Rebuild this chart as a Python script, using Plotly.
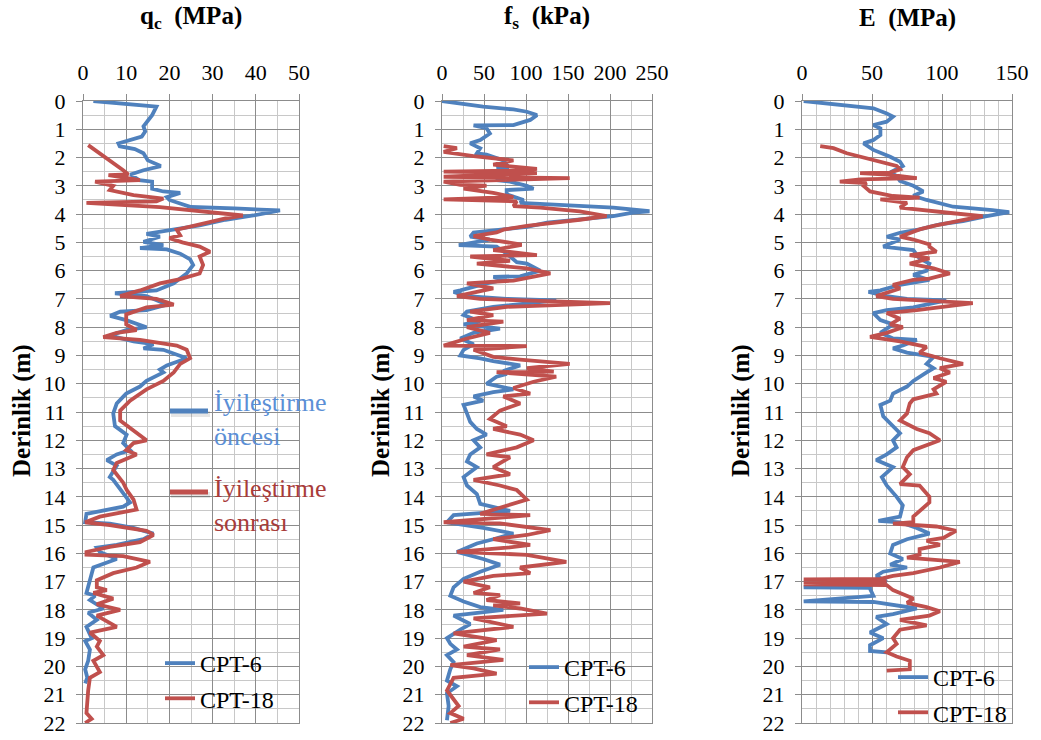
import plotly.graph_objects as go

# ---------------- CPT profiles (depth in m) ----------------
# Cone resistance qc (MPa)
qc_cpt6_depth = [0.0, 0.2, 0.5, 0.9, 1.08, 1.26, 1.5, 1.6, 1.7, 1.85, 2.1, 2.3, 2.45, 2.6, 2.8, 2.85, 3.1, 3.2, 3.25, 3.4, 3.5,
                 3.75, 3.8, 3.87, 4.05, 4.2, 4.4, 4.55, 4.7, 4.8, 4.98, 5.1, 5.2, 5.25, 5.4, 5.6, 5.8, 6.1, 6.45, 6.7,
                 6.75, 6.8, 6.9, 7.2, 7.4, 7.45, 7.6, 7.75, 8.0, 8.1, 8.3, 8.5, 8.6, 8.75, 8.8, 9.0, 9.1, 9.35, 9.5,
                 9.6, 9.9, 10.1, 10.35, 10.7, 11.05, 11.5, 11.8, 12.1, 12.35, 12.5, 12.7, 12.9, 13.3, 13.4, 14.0,
                 14.2, 14.35, 14.6, 14.9, 14.95, 15.1, 15.3, 15.5, 15.7, 15.8, 15.95, 16.2, 16.4, 16.5, 16.95, 17.4,
                 17.5, 17.65, 17.95, 18.1, 18.35, 18.6, 19.0, 19.1, 19.4, 19.8, 20.1, 20.4, 20.6]
qc_cpt6_value = [2.4, 17.0, 16.0, 14.0, 14.4, 13.6, 8.2, 8.5, 12.0, 14.0, 15.0, 18.0, 14.0, 11.0, 13.0, 16.0, 16.0, 18.6, 22.5, 19.4, 20.0,
                 25.0, 35.0, 45.6, 39.4, 33.0, 27.0, 21.0, 14.7, 17.8, 14.0, 18.6, 13.2, 19.4, 22.5, 24.8, 25.5, 24.0, 21.0, 17.0,
                 13.2, 7.4, 14.7, 19.4, 14.7, 8.6, 6.3, 10.0, 14.7, 10.0, 6.3, 11.7, 16.3, 14.0, 18.6, 22.5, 24.0, 19.4, 17.8,
                 18.6, 14.7, 13.2, 10.0, 7.8, 7.0, 7.4, 10.1, 9.3, 10.9, 7.8, 5.5, 7.8, 6.2, 7.0, 10.1,
                 10.9, 9.3, 0.8, 0.5, 6.2, 11.7, 16.3, 14.0, 7.8, 3.2, 3.9, 7.8, 3.9, 2.4, 1.6, 0.8,
                 2.8, 1.6, 4.7, 1.2, 3.2, 0.8, 2.0, 0.5, 1.6, 1.2, 0.5, 1.0, 0.5]

qc_cpt18_depth = [1.56, 1.85, 2.2, 2.45, 2.6, 2.62, 2.8, 2.85, 3.0, 3.15, 3.33, 3.45, 3.55, 3.6, 3.75, 3.9, 4.05, 4.15, 4.35,
                  4.55, 4.75, 4.85, 5.0, 5.15, 5.33, 5.5, 5.8, 6.1, 6.3, 6.45, 6.7, 6.9, 7.0, 7.2, 7.3, 7.55, 7.9, 8.1,
                  8.2, 8.35, 8.45, 8.65, 8.8, 9.1, 9.3, 9.6, 9.9, 10.2, 10.6, 10.95, 11.3, 11.65, 12.0, 12.1, 12.35,
                  12.5, 12.8, 13.05, 13.5, 13.75, 14.1, 14.45, 14.7, 14.9, 15.0, 15.2, 15.35, 15.6, 15.77, 15.95,
                  16.05, 16.1, 16.3, 16.5, 16.7, 16.95, 17.2, 17.3, 17.4, 17.6, 17.8, 18.0, 18.2, 18.6, 18.8, 19.1,
                  19.3, 19.6, 19.8, 20.2, 20.4, 20.85, 21.65, 21.85, 22.0]
qc_cpt18_value = [1.2, 3.9, 7.0, 9.3, 10.5, 5.9, 13.2, 2.8, 7.0, 6.2, 11.7, 18.6, 17.0, 0.8, 17.8, 27.0, 37.0, 33.0, 27.0,
                  21.7, 22.5, 20.0, 23.0, 27.0, 29.4, 27.0, 27.8, 27.0, 22.5, 17.8, 13.2, 8.6, 17.0, 21.0, 14.7, 10.0, 10.0, 12.4,
                  7.8, 4.7, 13.2, 21.7, 24.0, 24.8, 22.5, 21.0, 18.6, 14.7, 10.9, 8.6, 8.6, 11.7, 14.7, 11.7, 10.0,
                  12.4, 7.8, 7.0, 9.3, 10.1, 11.7, 12.4, 3.9, 0.5, 6.2, 14.7, 16.3, 13.2, 6.2, 0.8,
                  0.8, 9.3, 15.5, 12.4, 7.0, 3.2, 3.2, 5.5, 2.4, 7.0, 3.2, 8.6, 3.2, 7.8, 1.6, 3.9,
                  3.2, 4.7, 2.4, 3.9, 1.6, 1.2, 0.8, 2.0, 0.5]

# Sleeve friction fs (kPa)
fs_cpt6_depth = [0.0, 0.2, 0.3, 0.38, 0.5, 0.67, 0.85, 0.86, 0.96, 1.15, 1.38, 1.5, 1.67, 1.85, 1.9, 2.1, 2.25, 2.35, 2.4,
                 2.8, 2.85, 3.0, 3.1, 3.15, 3.3, 3.5, 3.6, 3.7, 3.77, 3.9, 3.95, 4.07, 4.2, 4.3, 4.45, 4.55, 4.65, 4.8,
                 4.9, 5.1, 5.15, 5.4, 5.7, 5.75, 6.0, 6.2, 6.22, 6.3, 6.45, 6.7, 6.75, 6.9, 6.95, 7.0, 7.05, 7.28,
                 7.45, 7.57, 7.8, 7.9, 8.05, 8.2, 8.4, 8.6, 8.8, 9.0, 9.1, 9.2, 9.35, 9.55, 9.65, 9.75, 10.0, 10.2,
                 10.3, 10.45, 10.6, 10.75, 11.05, 11.35, 11.6, 11.8, 12.0, 12.25, 12.5, 12.75, 12.95, 13.3, 13.6,
                 13.9, 14.25, 14.5, 14.65, 14.9, 15.1, 15.3, 15.5, 15.65, 15.95, 16.2, 16.4, 16.65, 16.9, 17.2,
                 17.5, 17.7, 17.9, 18.0, 18.2, 18.5, 18.7, 19.0, 19.2, 19.4, 19.6, 19.85, 20.1, 20.5, 20.7, 20.95,
                 21.4, 21.9]
fs_cpt6_value = [0, 49, 85, 101, 113, 105, 85, 37.6, 53, 57, 45.5, 33.6, 45.5, 41.5, 53, 73, 77, 65, 79,
                 65, 81, 101, 109, 77, 77, 97, 93, 156, 204, 247, 227, 204, 156, 125, 101, 69, 37.6, 33.6,
                 57, 20, 65, 77, 89, 101, 117, 93, 61, 77, 53, 21.8, 13.8, 29.7, 49, 77, 136, 61,
                 29.7, 25.7, 45.5, 25.7, 69, 37.6, 21.8, 37.6, 25.7, 21.8, 45.5, 61, 93, 73, 77, 65, 53, 85,
                 61, 37.6, 49, 25.7, 29.7, 33.6, 41.5, 53, 37.6, 45.5, 33.6, 29.7, 41.5, 25.7, 29.7,
                 41.5, 45.5, 81, 13.8, 5.9, 49, 85, 61, 41.5, 17.8, 49, 69, 45.5, 25.7, 13.8,
                 9.9, 25.7, 45.5, 73, 13.8, 33.6, 21.8, 5.9, 9.9, 17.8, 5.9, 13.8, 9.9, 5.9, 17.8, 5.9,
                 7.9, 5.9]

fs_cpt18_depth = [1.6, 1.67, 1.8, 1.95, 2.1, 2.25, 2.4, 2.45, 2.5, 2.55, 2.68, 2.73, 2.85, 2.97, 2.99, 3.1, 3.25, 3.4,
                  3.48, 3.55, 3.72, 3.77, 3.9, 4.07, 4.2, 4.3, 4.42, 4.55, 4.65, 4.78, 4.9, 5.07, 5.1, 5.27, 5.45,
                  5.5, 5.65, 5.75, 5.92, 6.1, 6.3, 6.35, 6.45, 6.63, 6.9, 7.0, 7.15, 7.28, 7.45, 7.57, 7.75, 7.8,
                  8.0, 8.2, 8.4, 8.65, 8.67, 8.8, 9.05, 9.15, 9.3, 9.45, 9.57, 9.59, 9.75, 9.93, 10.15, 10.35, 10.45,
                  10.7, 10.95, 11.25, 11.5, 11.6, 11.8, 12.0, 12.25, 12.5, 12.6, 12.95, 13.2, 13.4, 13.6, 13.76,
                  14.1, 14.35, 14.6, 14.65, 14.9, 14.94, 15.18, 15.35, 15.5, 15.7, 15.8, 15.95, 16.05, 16.3, 16.5,
                  16.7, 16.8, 17.0, 17.2, 17.4, 17.48, 17.65, 17.77, 17.84, 17.95, 18.13, 18.3, 18.6, 18.83, 19.07,
                  19.3, 19.4, 19.6, 19.77, 19.95, 20.07, 20.25, 20.4, 20.85, 21.4, 21.65, 21.85, 22.0]
fs_cpt18_value = [2, 17.8, 2, 37.6, 85, 61, 113, 101, 2, 113, 2, 152, 2, 21.8, 53, 25.7, 61, 85,
                  2, 89, 85, 117, 164, 196, 164, 132, 101, 73, 65, 37.6, 57, 93, 93, 61, 113,
                  33.6, 81, 41.5, 101, 129, 93, 85, 29.7, 61, 17.8, 45.5, 200, 77, 33.6, 61, 29.7, 73,
                  29.7, 57, 29.7, 2, 101, 37.6, 61, 93, 152, 101, 133, 65, 136, 109, 85, 105, 73,
                  93, 69, 57, 77, 61, 93, 109, 89, 53, 81, 61, 81, 37.6, 69, 89,
                  101, 73, 45.5, 105, 2, 69, 129, 101, 61, 105, 77, 17.8, 101, 148, 93,
                  105, 61, 25.7, 57, 37.6, 69, 53, 93, 61, 93, 125, 37.6, 85, 13.8, 65,
                  25.7, 69, 29.7, 73, 9.9, 37.6, 65, 13.8, 5.9, 19.8, 9.9, 25.7, 9.9]

# Deformation modulus E (MPa)
e_cpt6_depth = [0.0, 0.14, 0.26, 0.44, 0.55, 0.73, 0.85, 0.97, 1.2, 1.38, 1.5, 1.73, 1.97, 2.15, 2.3, 2.53, 2.65, 2.83,
                3.0, 3.2, 3.35, 3.5, 3.74, 3.86, 3.93, 4.07, 4.25, 4.36, 4.54, 4.66, 4.8, 4.9, 5.07, 5.15, 5.27,
                5.57, 5.75, 6.0, 6.15, 6.33, 6.5, 6.7, 6.75, 6.9, 7.0, 7.05, 7.3, 7.4, 7.5, 7.75, 7.9, 8.05, 8.2,
                8.4, 8.45, 8.65, 8.75, 8.9, 9.05, 9.3, 9.45, 9.6, 9.9, 10.1, 10.35, 10.6, 10.75, 11.15, 11.5, 11.75,
                12.0, 12.25, 12.5, 12.7, 12.95, 13.3, 13.6, 14.0, 14.3, 14.7, 14.85, 14.9, 15.1, 15.3, 15.5, 15.7,
                16.0, 16.2, 16.4, 16.5, 16.65, 16.8, 17.0, 17.2, 17.22, 17.25, 17.5, 17.7, 17.72, 17.85, 17.95,
                18.15, 18.25, 18.5, 18.8, 19.0, 19.25, 19.45, 19.5]
e_cpt6_value = [1.2, 27, 51, 60.5, 65, 60.5, 51, 56, 56, 51, 44, 51, 63, 70, 72, 63, 67.6, 70,
                79.5, 86.6, 79.5, 89, 108, 136, 148, 132, 115, 98.5, 84, 70, 60.5, 70, 60.5, 58, 79.5,
                84, 91, 89, 79.5, 91, 70, 56, 47.5, 60.5, 75, 103, 79.5, 60.5, 51, 56, 65, 60.5, 56,
                65, 82, 72, 65, 75, 94, 89, 94, 89, 79.5, 75, 65, 63, 56, 58, 65, 70,
                65, 67.6, 60.5, 53, 65, 57, 60.5, 67.6, 72, 70, 54.6, 70, 82, 91, 75, 65,
                63, 72, 63, 75, 58, 53, 60.5, 1.2, 48.6, 48.6, 51, 1.2, 51, 67.6, 82,
                65, 53, 60.5, 48.6, 58, 48.6, 48.6, 60.5]

e_cpt18_depth = [1.6, 1.67, 1.85, 1.97, 2.15, 2.3, 2.42, 2.53, 2.55, 2.6, 2.73, 2.77, 2.85, 2.9, 3.0, 3.2, 3.36, 3.42,
                 3.48, 3.6, 3.77, 3.85, 3.97, 4.07, 4.19, 4.3, 4.42, 4.54, 4.66, 4.8, 4.9, 5.07, 5.15, 5.33, 5.45,
                 5.57, 5.75, 5.92, 6.1, 6.28, 6.33, 6.5, 6.63, 6.9, 7.0, 7.15, 7.4, 7.5, 7.7, 7.9, 8.0, 8.2, 8.34,
                 8.5, 8.7, 8.9, 9.1, 9.3, 9.45, 9.6, 9.8, 9.93, 10.2, 10.35, 10.55, 10.7, 11.05, 11.3, 11.6, 11.75,
                 12.0, 12.2, 12.35, 12.6, 12.95, 13.2, 13.55, 13.6, 14.0, 14.2, 14.5, 14.7, 14.9, 14.95, 15.05,
                 15.2, 15.45, 15.55, 15.7, 15.85, 16.05, 16.15, 16.3, 16.5, 16.7, 16.8, 16.9, 16.92, 16.95, 16.98,
                 17.0, 17.03, 17.07, 17.1, 17.12, 17.3, 17.4, 17.6, 17.75, 17.9, 18.05, 18.2, 18.35, 18.55, 18.7,
                 19.0, 19.2, 19.5, 19.65, 19.8, 20.1, 20.15]
e_cpt18_value = [13, 22.5, 32, 41.5, 56, 67.6, 70, 63, 41.5, 60.5, 82, 41.5, 27, 46, 44, 48.6, 65, 84,
                 56, 75, 70, 84, 108, 129, 117, 103, 94, 84, 77, 70, 79.5, 91, 91, 96, 77,
                 91, 77, 94, 105.6, 91, 79.5, 65, 70, 53, 65, 122, 82, 60.5, 70, 63, 72, 60.5, 48.6,
                 70, 89, 84, 98.5, 115, 98.5, 105.6, 94, 103, 94, 96, 79.5, 77, 75, 70, 82, 91,
                 98.5, 86.6, 79.5, 75, 72, 77, 70, 84, 91, 91, 84, 79.5, 79.5, 65, 96,
                 110, 101, 89, 98.5, 84, 84, 75, 112.7, 98.5, 79.5, 65, 56, 1.2, 58, 1.2,
                 60.5, 1.2, 60.5, 1.2, 60.5, 65, 70, 79.5, 75, 89, 98.5, 91, 70, 89, 70,
                 65, 67.6, 60.5, 67.6, 77, 77, 60.5]

# ---------------- styling ----------------
BLUE = "#4F81BD"
RED = "#C0504D"
SERIF = "Liberation Serif"
GRID_MAJOR = "#8c8c8c"
GRID_MINOR = "#c8c8c8"
NBSP = "\u00a0"

W, H = 1041, 740
# Plot boxes in pixels: (left, right); all panels share the same top/bottom
panel_px = [(83, 299), (442, 652), (802, 1012)]
top_px, bottom_px = 101, 723

panels = [
    dict(title="q<sub>c</sub>" + NBSP * 2 + "(MPa)", rng=[0, 50], dtick=10, minor=5,
         s6=(qc_cpt6_value, qc_cpt6_depth), s18=(qc_cpt18_value, qc_cpt18_depth)),
    dict(title="f<sub>s</sub>" + NBSP * 2 + "(kPa)", rng=[0, 250], dtick=50, minor=25,
         s6=(fs_cpt6_value, fs_cpt6_depth), s18=(fs_cpt18_value, fs_cpt18_depth)),
    dict(title="E" + NBSP * 2 + "(MPa)", rng=[0, 150], dtick=50, minor=10,
         s6=(e_cpt6_value, e_cpt6_depth), s18=(e_cpt18_value, e_cpt18_depth)),
]

fig = go.Figure()
ydom = [1 - bottom_px / H, 1 - top_px / H]
# top-left corner of each panel's CPT legend, in pixels
legend_pos = [(160, 641), (524, 645), (893, 655)]

annotations = []
for i, p in enumerate(panels):
    n = "" if i == 0 else str(i + 1)
    xa, ya = "x" + n, "y" + n
    leg = "legend" + n
    for name, (vals, deps), col in (("CPT-6", p["s6"], BLUE), ("CPT-18", p["s18"], RED)):
        fig.add_trace(go.Scatter(
            x=vals, y=deps, mode="lines", name=name,
            line=dict(color=col, width=3.8),
            xaxis=xa, yaxis=ya, legend=leg, legendgroup=name + n,
            hoverinfo="skip",
        ))
    l, r = panel_px[i]
    axis_common = dict(
        showline=True, linecolor=GRID_MAJOR, linewidth=1, mirror=True,
        ticks="outside", ticklen=6, tickcolor=GRID_MAJOR,
        showgrid=True, gridcolor=GRID_MAJOR, gridwidth=1,
        zeroline=False, automargin=False,
        tickfont=dict(family=SERIF, size=22, color="black"),
    )
    fig.layout["xaxis" + n] = dict(
        axis_common, domain=[l / W, r / W], range=p["rng"], side="top",
        anchor=ya, dtick=p["dtick"], tick0=0, ticklabelstandoff=5,
        minor=dict(dtick=p["minor"], showgrid=True, gridcolor=GRID_MINOR, ticks=""),
    )
    fig.layout["yaxis" + n] = dict(
        axis_common, domain=ydom, range=[22, 0], anchor=xa,
        dtick=1, tick0=0, ticklabelstandoff=6,
        minor=dict(dtick=0.5, showgrid=True, gridcolor=GRID_MINOR, ticks=""),
    )
    lx, ly = legend_pos[i]
    fig.layout[leg] = dict(
        x=lx / W, y=1 - ly / H, xanchor="left", yanchor="top",
        bgcolor="rgba(0,0,0,0)", tracegroupgap=1,
        font=dict(family=SERIF, size=24, color="black"),
    )
    # panel title
    annotations.append(dict(
        text="<b>" + p["title"] + "</b>", xref="paper", yref="paper",
        x=(l + r) / 2 / W, y=1 - 18 / H, xanchor="center", yanchor="middle",
        showarrow=False,
        font=dict(family=SERIF, size=25, color="black"),
    ))
    # depth axis title
    annotations.append(dict(
        text="<b>Derinlik (m)</b>", xref="paper", yref="paper",
        x=(l - 61) / W, y=1 - 411 / H, xanchor="center", yanchor="middle",
        showarrow=False, textangle=-90,
        font=dict(family=SERIF, size=25, color="black"),
    ))

# Before / after improvement labels in the qc panel
notes = [("İyileştirme<br>öncesi", "#5B8FD6", BLUE, 411, 419),
         ("İyileştirme<br>sonrası", "#A83C3A", RED, 492, 505)]
shapes = []
for text, tcol, lcol, line_y, text_y in notes:
    annotations.append(dict(
        text=text, xref="paper", yref="paper", x=212 / W, y=1 - text_y / H,
        xanchor="left", yanchor="middle", align="left", showarrow=False,
        font=dict(family=SERIF, size=26, color=tcol),
    ))
    shapes.append(dict(type="line", xref="paper", yref="paper",
                       x0=171 / W, x1=210 / W, y0=1 - (line_y + 3) / H, y1=1 - (line_y + 3) / H,
                       line=dict(color="rgba(0,0,0,0.10)", width=6)))
    shapes.append(dict(type="line", xref="paper", yref="paper",
                       x0=170 / W, x1=208 / W, y0=1 - line_y / H, y1=1 - line_y / H,
                       line=dict(color=lcol, width=5)))

fig.update_layout(
    width=W, height=H,
    margin=dict(l=0, r=0, t=0, b=0, autoexpand=False),
    paper_bgcolor="white", plot_bgcolor="white",
    annotations=annotations, shapes=shapes,
    showlegend=True,
)

fig.write_html("out.html")
